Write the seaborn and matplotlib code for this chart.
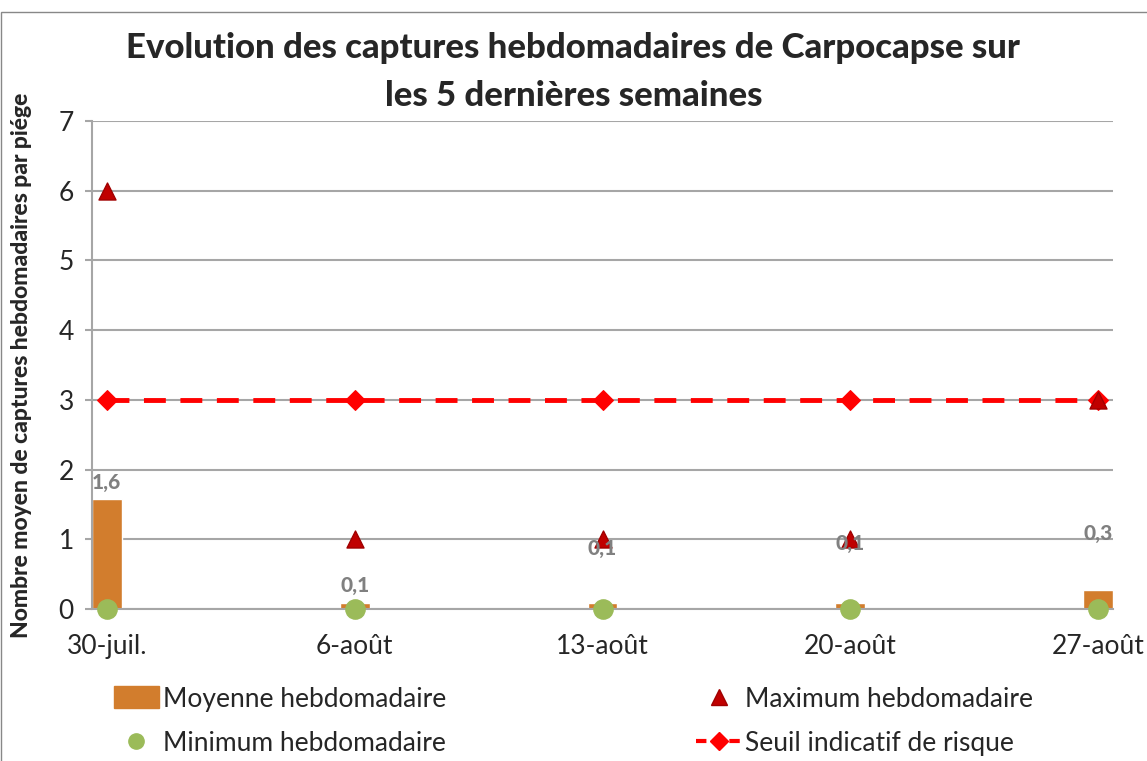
import pandas as pd
import matplotlib
matplotlib.use("Agg")
import matplotlib.pyplot as plt
import seaborn as sns
from matplotlib.lines import Line2D
from matplotlib.patches import Patch, Rectangle

semaines = ["30-juil.", "6-août", "13-août", "20-août", "27-août"]
moyenne = [1.58, 0.08, 0.08, 0.08, 0.28]
maximum = [6, 1, 1, 1, 3]
minimum = [0, 0, 0, 0, 0]
seuil = [3, 3, 3, 3, 3]
# hauteur des étiquettes de données (placées à la main dans l'original)
label_y = [1.82, 0.34, 0.87, 0.94, 1.09]

sns.set_theme(style="white")
plt.rcParams["font.family"] = ["Lato", "DejaVu Sans"]

df = pd.DataFrame({"pos": range(len(semaines)), "moyenne": moyenne,
                   "maximum": maximum, "minimum": minimum, "seuil": seuil})

ORANGE = "#D27D2D"
ROUGE_F = "#C00000"
VERT = "#9BBB59"
ROUGE = "#FF0000"
GRIS = "#A6A6A6"

fig = plt.figure(figsize=(11.47, 7.61), dpi=100)
ax = fig.add_axes([0.0802, 0.1997, 0.8902, 0.6413])

sns.barplot(data=df, x="pos", y="moyenne", native_scale=True, width=0.12,
            color=ORANGE, saturation=1, ax=ax, zorder=2)
sns.lineplot(data=df, x="pos", y="seuil", color=ROUGE, lw=3.5,
             linestyle=(0, (4.5, 3)), marker="D", markersize=10,
             markeredgecolor=ROUGE, ax=ax, zorder=3, clip_on=False)
sns.scatterplot(data=df, x="pos", y="maximum", marker="^", s=150,
                color=ROUGE_F, edgecolor="#A00000", linewidth=1, ax=ax,
                zorder=4, clip_on=False)
sns.scatterplot(data=df, x="pos", y="minimum", marker="o", s=190,
                color=VERT, edgecolor=VERT, ax=ax, zorder=5, clip_on=False)

for i, v in enumerate(moyenne):
    ax.text(i, label_y[i], f"{v:.1f}".replace(".", ","), ha="center",
            va="center", color="#808080", fontsize=15, fontweight="black",
            zorder=6)

ax.set_xlim(-0.06, 4.06)
ax.set_ylim(0, 7)
ax.set_yticks(range(8))
ax.set_xticks(range(len(semaines)))
ax.set_xticklabels(semaines)
ax.set_xlabel("")
ax.set_ylabel("")
ax.yaxis.grid(True, color=GRIS, lw=1.5)
ax.set_axisbelow(True)
for s in ["top", "right"]:
    ax.spines[s].set_visible(False)
for s in ["left", "bottom"]:
    ax.spines[s].set_color(GRIS)
    ax.spines[s].set_linewidth(1.5)
ax.tick_params(axis="y", length=5, width=1.5, color=GRIS, pad=8,
               labelsize=19, left=True)
ax.tick_params(axis="x", length=0, pad=18, labelsize=19)

fig.text(0.019, 0.52, "Nombre moyen de captures hebdomadaires par piége",
         rotation=90, ha="center", va="center", fontsize=16.5,
         fontweight="black")
fig.text(0.5, 1 - 48 / 761, "Evolution des captures hebdomadaires de Carpocapse sur",
         ha="center", va="center", fontsize=25, fontweight="black")
fig.text(0.5, 1 - 96 / 761, "les 5 dernières semaines",
         ha="center", va="center", fontsize=25, fontweight="black")

handles = [
    Patch(facecolor=ORANGE, edgecolor=ORANGE),
    Line2D([], [], ls="", marker="o", ms=11, color=VERT),
    Line2D([], [], ls="", marker="^", ms=11, color=ROUGE_F, mec="#A00000"),
    Line2D([], [], color=ROUGE, lw=3, ls=(0, (2.5, 1.5)), marker="D", ms=9),
]
labels = ["Moyenne hebdomadaire", "Minimum hebdomadaire",
          "Maximum hebdomadaire", "Seuil indicatif de risque"]
fig.legend(handles, labels, ncol=2, loc="center", bbox_to_anchor=(0.5, 0.052),
           frameon=False, fontsize=19, columnspacing=9.5, handlelength=1.7,
           handleheight=0.9, handletextpad=0.15, labelspacing=0.75)

fig.patches.append(Rectangle((0.001, -0.05), 1.2, 1.05 - 12 / 761,
                             transform=fig.transFigure, fill=False,
                             edgecolor="#888888", lw=1))

fig.savefig("out.png", dpi=100)
